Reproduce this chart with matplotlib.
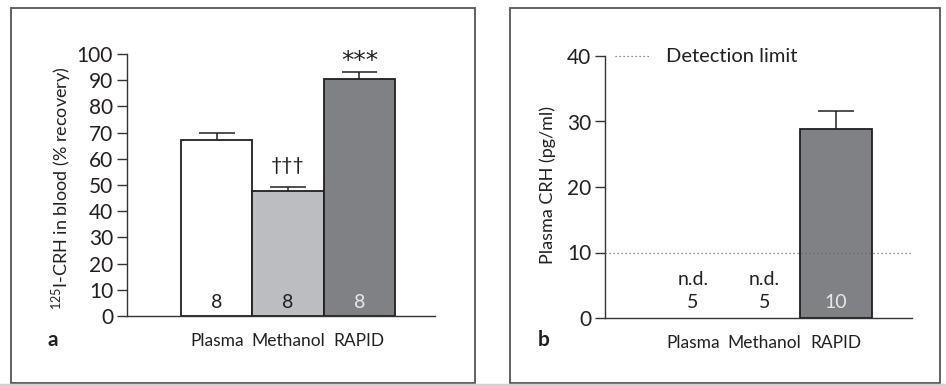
import matplotlib
matplotlib.use("Agg")
import matplotlib.pyplot as plt
from matplotlib.patches import Rectangle
import numpy as np

plt.rcParams['font.family'] = ['Lato', 'DejaVu Sans']
plt.rcParams['mathtext.fontset'] = 'custom'
plt.rcParams['mathtext.rm'] = 'Lato'

categories = ["Plasma", "Methanol", "RAPID"]
# panel a
recovery = [67.2, 47.7, 90.4]
recovery_err = [2.5, 1.7, 2.8]
n_a = ["8", "8", "8"]
sig_a = ["", "†††", "***"]
colors = ["#ffffff", "#bcbdc0", "#808185"]
# panel b
plasma_crh = [0, 0, 28.9]
plasma_crh_err = [0, 0, 2.7]
n_b = ["5", "5", "10"]
nd_b = ["n.d.", "n.d.", ""]
detection_limit = 10

W, H = 946, 385
fig = plt.figure(figsize=(W / 100, H / 100), dpi=100)
TXT = "#231f20"

# panel frames
for x0, x1 in [(11, 475), (510, 940)]:
    fig.add_artist(Rectangle((x0 / W, 1 - 383 / H), (x1 - x0) / W, (383 - 8) / H,
                             transform=fig.transFigure, fill=False,
                             edgecolor="#555555", linewidth=1.3))
fig.add_artist(plt.Line2D([0, 1], [1 - 383.5 / H] * 2, transform=fig.transFigure,
                          color="#d0d0d0", linewidth=1))

edge = "#231f20"
ax_col = "#333333"


def style(ax, ymax, step):
    for s in ["top", "right"]:
        ax.spines[s].set_visible(False)
    for s in ["left", "bottom"]:
        ax.spines[s].set_color(ax_col)
        ax.spines[s].set_linewidth(1.0)
    ax.set_ylim(0, ymax)
    ax.set_yticks(np.arange(0, ymax + 1, step))
    ax.tick_params(axis='y', direction='out', length=7, width=1.0, colors=ax_col,
                   labelsize=15, labelcolor=TXT, pad=3)
    ax.tick_params(axis='x', length=0, labelsize=12.5, labelcolor=TXT, pad=12)
    ax.set_xticks(range(len(categories)))
    ax.set_xticklabels(categories)


x = np.arange(len(categories))

# ---- panel a
axa = fig.add_axes([127 / W, 1 - 316 / H, (435 - 127) / W, (316 - 54) / H])
axa.bar(x, recovery, width=1.0, color=colors, edgecolor=edge, linewidth=1.3, zorder=2)
axa.vlines(x, recovery, np.array(recovery) + np.array(recovery_err), color=edge, linewidth=1.1, zorder=1)
axa.hlines(np.array(recovery) + np.array(recovery_err), x - 0.25, x + 0.25, color=edge, linewidth=1.1, zorder=1)
axa.set_xlim(-1.26, 3.06)
style(axa, 100, 10)
fig.text(62 / W, 1 - 188 / H, r"$\mathregular{^{125}}$I-CRH in blood (% recovery)", rotation=90,
         fontsize=13, color=TXT, ha='center', va='center')
for i, t in enumerate(n_a):
    axa.text(x[i], 5.3, t, ha='center', va='center', fontsize=14,
             color="#e8e8e8" if i == 2 else TXT, zorder=3)
for i, t in enumerate(sig_a):
    if t == "***":
        axa.text(x[i], 94.7, t, ha='center', va='baseline', fontsize=18,
                 family='DejaVu Sans', color=TXT)
    elif t:
        axa.text(x[i], 57.6, t, ha='center', va='center', fontsize=14, color=TXT)
fig.text(53 / W, 1 - 340 / H, "a", fontsize=15, fontweight='bold', ha='center', va='center', color=TXT)

# ---- panel b
axb = fig.add_axes([605 / W, 1 - 318 / H, (912 - 605) / W, (318 - 56) / H])
axb.bar(x, plasma_crh, width=1.0, color=colors[2], edgecolor=[edge if v > 0 else 'none' for v in plasma_crh],
        linewidth=1.3, zorder=2)
tops = np.array(plasma_crh) + np.array(plasma_crh_err)
m = np.array(plasma_crh) > 0
axb.vlines(x[m], np.array(plasma_crh)[m], tops[m], color=edge, linewidth=1.1, zorder=1)
axb.hlines(tops[m], x[m] - 0.25, x[m] + 0.25, color=edge, linewidth=1.1, zorder=1)
axb.axhline(detection_limit, color="#666666", linestyle=(0, (1, 2.2)), linewidth=0.9, zorder=3)
axb.set_xlim(-1.23, 3.06)
style(axb, 40, 10)
fig.text(548 / W, 1 - 185 / H, "Plasma CRH (pg/ml)", rotation=90,
         fontsize=13, color=TXT, ha='center', va='center')
for i, t in enumerate(n_b):
    axb.text(x[i], 2.3, t, ha='center', va='center', fontsize=14,
             color="#e8e8e8" if plasma_crh[i] > 0 else TXT, zorder=4)
    if nd_b[i]:
        axb.text(x[i], 5.95, nd_b[i], ha='center', va='center', fontsize=14, color=TXT)
axb.plot([-1.09, -0.62], [40, 40], color="#666666", linestyle=(0, (1, 2.2)), linewidth=0.9, clip_on=False)
axb.text(-0.38, 40, "Detection limit", ha='left', va='center', fontsize=14.5, color=TXT)
fig.text(544 / W, 1 - 340 / H, "b", fontsize=15, fontweight='bold', ha='center', va='center', color=TXT)

fig.savefig("out.png", dpi=100)
